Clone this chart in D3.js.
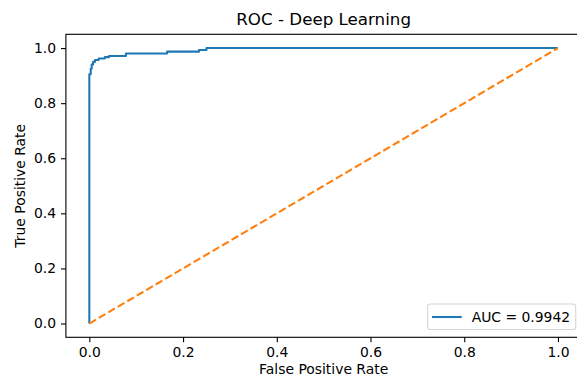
<!DOCTYPE html>
<html>
<head>
<meta charset="utf-8">
<script src="https://cdn.jsdelivr.net/npm/d3@7"></script>
<style>
html,body{margin:0;padding:0;background:#fff;}
svg{display:block;font-family:"DejaVu Sans",sans-serif;}
</style>
</head>
<body>
<svg id="chart" width="577" height="378"></svg>
<script>
// ROC curve points (false positive rate, true positive rate)
const fpr = [0, 0, 0.003, 0.003, 0.005, 0.005, 0.008, 0.008, 0.012, 0.012, 0.020, 0.020, 0.033, 0.033, 0.042, 0.042, 0.078, 0.078, 0.166, 0.166, 0.234, 0.234, 0.250, 0.250, 1.0];
const tpr = [0, 0.905, 0.905, 0.925, 0.925, 0.940, 0.940, 0.950, 0.950, 0.957, 0.957, 0.962, 0.962, 0.967, 0.967, 0.971, 0.971, 0.980, 0.980, 0.987, 0.987, 0.993, 0.993, 1.0, 1.0];
const chanceX = [0, 1];
const chanceY = [0, 1];
const xTicks = [0, 0.2, 0.4, 0.6, 0.8, 1.0];
const yTicks = [0, 0.2, 0.4, 0.6, 0.8, 1.0];
const title = "ROC - Deep Learning";
const xLabel = "False Positive Rate";
const yLabel = "True Positive Rate";
const legendLabel = "AUC = 0.9942";

const svg = d3.select("#chart");
const L = 65.9, R = 581.4, T = 34.3, B = 337.3;
const x = d3.scaleLinear().domain([-0.05, 1.05]).range([L, R]);
const y = d3.scaleLinear().domain([-0.05, 1.05]).range([B, T]);
const blue = "#1f77b4", orange = "#ff7f0e";
const fs = 13.9;

// clip
svg.append("defs").append("clipPath").attr("id", "clip")
  .append("rect").attr("x", L).attr("y", T).attr("width", R - L).attr("height", B - T);

const plot = svg.append("g").attr("clip-path", "url(#clip)");
const line = d3.line().x(d => x(d[0])).y(d => y(d[1]));

plot.append("path")
  .attr("d", line(fpr.map((v, i) => [v, tpr[i]])))
  .attr("fill", "none").attr("stroke", blue).attr("stroke-width", 2.08)
  .attr("stroke-linejoin", "round").attr("stroke-linecap", "butt");

plot.append("path")
  .attr("d", line(chanceX.map((v, i) => [v, chanceY[i]])))
  .attr("fill", "none").attr("stroke", orange).attr("stroke-width", 2.08)
  .attr("stroke-dasharray", "7.7,3.3");

// axes
const xAxis = d3.axisBottom(x).tickValues(xTicks).tickFormat(d3.format(".1f")).tickSize(4.9).tickPadding(4.9);
const yAxis = d3.axisLeft(y).tickValues(yTicks).tickFormat(d3.format(".1f")).tickSize(4.9).tickPadding(4.9);

const gx = svg.append("g").attr("transform", `translate(0,${B})`).call(xAxis);
const gy = svg.append("g").attr("transform", `translate(${L},0)`).call(yAxis);
[gx, gy].forEach(g => {
  g.select(".domain").remove();
  g.selectAll(".tick line").attr("stroke", "#000").attr("stroke-width", 1.1);
  g.selectAll(".tick text").attr("fill", "#000").style("font-size", fs + "px").style("font-family", "DejaVu Sans");
});

// spines
svg.append("rect").attr("x", L).attr("y", T).attr("width", R - L).attr("height", B - T)
  .attr("fill", "none").attr("stroke", "#000").attr("stroke-width", 1.1);

// title & labels
svg.append("text").attr("x", (L + R) / 2).attr("y", 25).attr("text-anchor", "middle")
  .style("font-size", "16.7px").attr("fill", "#000").text(title);
svg.append("text").attr("x", (L + R) / 2).attr("y", 374).attr("text-anchor", "middle")
  .style("font-size", fs + "px").attr("fill", "#000").text(xLabel);
svg.append("text").attr("transform", `translate(25,${(T + B) / 2}) rotate(-90)`).attr("text-anchor", "middle")
  .style("font-size", fs + "px").attr("fill", "#000").text(yLabel);

// legend
const lg = svg.append("g");
lg.append("rect").attr("x", 427.7).attr("y", 304).attr("width", 148).attr("height", 25.5)
  .attr("rx", 2.8).attr("fill", "#fff").attr("fill-opacity", 0.8).attr("stroke", "#d6d6d6").attr("stroke-width", 1.1);
lg.append("line").attr("x1", 432).attr("x2", 461.7).attr("y1", 317).attr("y2", 317)
  .attr("stroke", blue).attr("stroke-width", 2.08);
lg.append("text").attr("x", 471.7).attr("y", 322).style("font-size", fs + "px").attr("fill", "#000").text(legendLabel);
</script>
</body>
</html>
